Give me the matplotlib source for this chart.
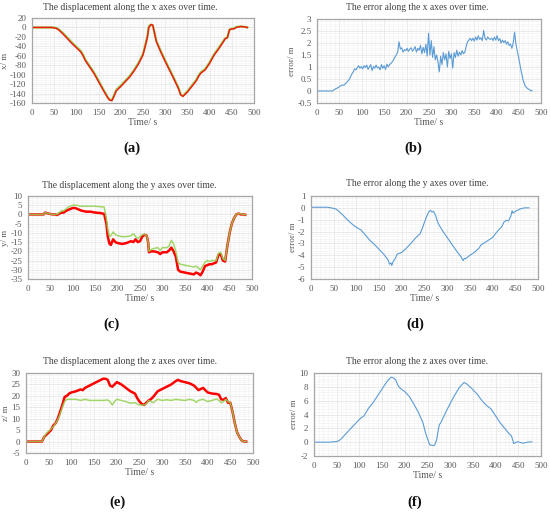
import matplotlib
matplotlib.use("Agg")
import matplotlib.pyplot as plt
from matplotlib.ticker import FuncFormatter, MultipleLocator, AutoMinorLocator

plt.rcParams["font.family"] = ["Liberation Serif", "DejaVu Serif"]

# (a) displacement along x
disp_x_red_t = [0, 35, 45, 55, 60, 70, 80, 90, 100, 110, 115, 120, 130, 140, 150, 160, 170, 175,
                180, 185, 190, 200, 210, 220, 230, 240, 250, 255, 260, 263, 268, 272, 280, 290,
                300, 310, 320, 330, 335, 340, 350, 360, 370, 375, 380, 390, 400, 410, 420, 430,
                435, 440, 445, 450, 455, 460, 470, 480, 485]
disp_x_red = [0, 0, 0, -2, -5, -14, -24, -34, -43, -52, -60, -70, -84, -98, -115, -132, -148, -154,
              -155, -145, -134, -125, -115, -105, -92, -77, -58, -40, -20, 0, 6, 5, -30, -52,
              -72, -91, -110, -130, -143, -146, -137, -125, -113, -104, -97, -90, -76, -59, -46, -32,
              -24, -22, -5, -3, -3, 0, 2, 1, 0]
disp_x_green = [0, 0, 0, -1, -4, -12, -22, -32, -41, -50, -58, -68, -82, -96, -113, -130, -147, -153,
                -154, -143, -132, -123, -113, -103, -90, -75, -56, -38, -18, 2, 6, 4, -28, -50,
                -70, -89, -108, -128, -142, -145, -135, -123, -111, -102, -95, -88, -74, -57, -44, -30,
                -23, -21, -4, -3, -2, 1, 2, 1, 0]

# (b) error along x
err_x_t = [0, 33] + list(range(36, 442, 3)) + [444, 450, 455, 460, 465, 470, 475, 478, 480]
err_x = [0, 0,
         0.02, 0.06, 0.10, 0.12, 0.15, 0.20, 0.22, 0.25, 0.24, 0.30, 0.35, 0.42, 0.48, 0.60,
         0.72, 0.80, 0.92, 0.88, 0.98, 1.05, 0.95, 1.02, 0.92, 1.05, 0.98, 1.08, 0.90, 1.00,
         1.10, 0.85, 1.02, 0.95, 1.08, 0.96, 1.00, 0.88, 1.10, 0.95, 1.05, 0.90, 1.12, 1.00,
         1.10, 1.15, 1.22, 1.30, 1.42, 1.50, 1.62, 2.05, 1.75, 1.80, 1.62, 1.72, 1.68, 1.78,
         1.65, 1.75, 1.80, 1.66, 1.74, 1.85, 1.62, 1.78, 1.70, 1.90, 1.55, 1.82, 1.60, 1.95,
         1.45, 2.40, 1.50, 2.10, 1.40, 1.85, 1.30, 1.50, 1.20, 0.80, 1.45, 1.10, 1.60, 1.30,
         1.55, 1.00, 1.65, 1.35, 1.55, 0.95, 1.60, 1.40, 1.70, 1.45, 1.62, 1.50, 1.68, 1.55,
         1.62, 1.85, 2.05, 2.12, 2.20, 2.10, 2.20, 2.08, 2.25, 2.12, 2.30, 2.15, 2.22, 2.10,
         2.52, 2.20, 2.12, 2.25, 2.18, 2.15, 2.20, 2.10, 2.25, 2.12, 2.30, 2.10, 2.18, 2.00,
         2.12, 2.02, 2.10, 1.95, 2.05, 1.90, 1.95, 1.78, 2.00, 2.45,
         1.95, 1.40, 0.90, 0.45, 0.20, 0.10, 0.05, 0.00, 0.02]

# (c) displacement along y
disp_y_t = [0, 35, 38, 45, 55, 60, 65, 70, 75, 80, 85, 90, 95, 100, 105, 110, 115, 120, 130, 140,
            150, 160, 170, 175, 178, 182, 185, 190, 195, 200, 210, 220, 230, 235, 240, 245, 250,
            255, 260, 265, 268, 270, 275, 280, 290, 295, 300, 310, 315, 320, 325, 330, 335, 340,
            350, 360, 370, 375, 380, 385, 390, 395, 400, 405, 410, 420, 425, 430, 435, 440, 445,
            450, 455, 460, 465, 470, 475, 480, 485]
disp_y_red = [0, 0, 1, 0.5, 0, 0, -0.3, 0.5, 1, 1, 2, 2.5, 3, 3.5, 3.5, 3, 2.5, 2, 1.5, 1.5,
              1, 0.8, 0.3, -5, -12, -16, -16.5, -13.5, -15, -15.5, -16, -15.5, -14.5, -15, -13.5, -15, -14.5,
              -12, -11, -11.5, -15, -20.5, -20, -20, -20.5, -21.5, -20.5, -20.5, -19.5, -18, -20, -23, -30, -31,
              -31.5, -32, -32.5, -31.5, -32, -33, -31, -28, -27.5, -27, -27, -26, -22, -21.5, -25, -25.5, -17,
              -10, -5, -2, 0, 0.5, 0, 0, -0.2]
disp_y_green = [0, 0, 1, 0.5, 0, 0, 0, 1, 2, 2, 3, 4, 4.5, 5, 5, 5, 4.5, 4.5, 4.5, 4.5,
                4.5, 4.2, 4, -2, -8, -12, -11.5, -9.5, -11, -11.5, -12, -12, -11.5, -10.5, -12, -13, -12,
                -11, -10.8, -11.5, -15, -20, -19, -18.5, -18, -19.5, -18, -18, -17, -14, -16, -20, -26, -27,
                -27.5, -28, -28.5, -28, -29, -30, -28, -26, -25, -25.5, -25, -25, -21, -20.5, -24, -25, -17,
                -10, -5, -2, 0, 0.5, 0.3, 0, -0.2]

# (d) error along y
err_y_t = [0, 35, 45, 50, 55, 60, 70, 80, 90, 100, 110, 120, 130, 140, 150, 160, 170, 173, 176,
           178, 180, 185, 190, 200, 210, 220, 230, 240, 245, 250, 255, 260, 263, 266, 270, 275,
           280, 290, 300, 310, 320, 330, 335, 338, 340, 350, 360, 370, 375, 380, 390, 400, 410,
           420, 425, 430, 435, 440, 443, 445, 450, 455, 460, 470, 480]
err_y = [0.05, 0.05, 0, -0.05, -0.1, -0.25, -0.6, -1.0, -1.35, -1.65, -1.85, -2.3, -2.75, -3.1,
         -3.5, -3.9, -4.4, -4.75, -4.65, -4.85, -4.6, -4.3, -3.9, -3.75, -3.4, -3.0, -2.55, -2.2,
         -1.75, -1.2, -0.7, -0.3, -0.2, -0.35, -0.3, -0.7, -1.3, -1.95, -2.5, -3.05, -3.6, -4.1,
         -4.45, -4.25, -4.3, -4.0, -3.75, -3.4, -3.1, -3.0, -2.75, -2.5, -2.0, -1.6, -1.2, -1.05,
         -1.1, -0.7, -0.25, -0.45, -0.3, -0.2, -0.1, 0.0, 0.0]

# (e) displacement along z
disp_z_red_t = [0, 35, 40, 45, 50, 55, 60, 65, 70, 75, 80, 85, 90, 95, 100, 110, 120, 125, 130,
                140, 150, 160, 170, 175, 180, 185, 190, 195, 200, 205, 210, 220, 230, 240, 245,
                250, 255, 260, 265, 270, 275, 280, 290, 300, 310, 320, 330, 335, 340, 350, 360,
                370, 375, 380, 385, 390, 395, 400, 410, 420, 425, 430, 435, 440, 445, 450, 455,
                460, 465, 470, 475, 480, 485]
disp_z_red = [0, 0, 2, 3, 4, 5, 7, 8, 10, 13, 16, 19.5, 20, 21, 21.5, 22, 22.8, 22.5, 23.5,
              24.5, 25.5, 26.5, 27.5, 27.5, 27, 24.5, 24, 25, 26, 25.5, 25, 23.5, 22, 21, 19,
              17.5, 16.5, 16, 17, 18, 18.5, 19.5, 22, 23, 24, 25, 26.5, 27, 26.5, 26, 25.5,
              24.5, 23.5, 22.5, 23, 23.5, 22.5, 21.5, 21, 20.8, 20.5, 18.5, 18.3, 19, 17, 17, 13,
              8, 4, 2, 0.5, 0, 0]
disp_z_green_t = [0, 35, 40, 45, 50, 55, 60, 65, 70, 75, 80, 85, 90, 95, 100, 110, 120, 130, 140,
                  150, 160, 170, 180, 185, 190, 195, 200, 210, 220, 230, 240, 250, 255, 260, 265,
                  270, 275, 280, 290, 300, 310, 320, 330, 340, 350, 360, 370, 375, 380, 390, 400,
                  410, 420, 425, 430, 435, 440, 445, 450, 455, 460, 465, 470, 475, 480, 485]
disp_z_green = [0, 0, 2, 3.5, 4.5, 5.5, 6.5, 8, 9.5, 12, 15, 17.5, 18.5, 18.5, 18.5, 18.5, 18,
                18.5, 18, 18, 18, 18, 18.2, 17.5, 16, 17.5, 18.5, 18, 17.5, 16.8, 17, 16, 16, 16,
                16.5, 18, 17.5, 17, 18.5, 18, 18.3, 18, 18.5, 18.2, 18, 18.5, 18, 17.2, 18, 18.5,
                17.5, 18, 18.7, 18, 17, 17.5, 18.5, 17.5, 17, 13, 8, 4, 2, 0.5, 0, 0]

# (f) error along z
err_z_t = [0, 35, 50, 55, 60, 70, 80, 90, 100, 110, 120, 130, 140, 150, 160, 165, 170, 175, 180,
           185, 190, 200, 210, 220, 230, 240, 245, 250, 255, 260, 263, 266, 270, 273, 276, 280,
           290, 300, 310, 320, 330, 335, 340, 350, 360, 370, 380, 390, 400, 410, 420, 430, 435,
           440, 443, 445, 450, 460, 470, 480]
err_z = [0, 0, 0.1, 0.2, 0.5, 1.2, 1.9, 2.6, 3.3, 3.8, 4.9, 5.7, 6.7, 7.7, 8.7, 9.1, 9.4, 9.3,
         9.0, 8.2, 7.8, 7.3, 6.6, 5.5, 4.3, 2.8, 1.5, 0.5, -0.4, -0.45, -0.5, -0.4, 0.3, 1.5,
         2.5, 2.9, 4.3, 5.6, 6.8, 7.9, 8.6, 8.5, 8.2, 7.6, 6.9, 6.0, 5.3, 4.8, 3.8, 2.8, 2.0,
         1.2, 0.9, -0.2, -0.1, 0.0, 0.05, -0.15, 0.0, 0.05]

RED = "#ff0000"
GREEN = "#92d050"
BLUE = "#5b9bd5"
W, H = 550, 512

fig = plt.figure(figsize=(W / 100, H / 100), dpi=100)


def make_axes(left, top, right, bottom):
    return fig.add_axes([left / W, 1 - bottom / H, (right - left) / W, (bottom - top) / H])


def style(ax, ylim, ystep, ylabel):
    ax.set_xlim(0, 500)
    ax.set_ylim(*ylim)
    ax.xaxis.set_major_locator(MultipleLocator(50))
    ax.yaxis.set_major_locator(MultipleLocator(ystep))
    ax.xaxis.set_minor_locator(AutoMinorLocator(5))
    ax.yaxis.set_minor_locator(AutoMinorLocator(5))
    ax.yaxis.set_major_formatter(FuncFormatter(lambda v, p: f"{v:g}"))
    ax.grid(which="major", color="#e2e2e2", lw=0.5)
    ax.grid(which="minor", color="#f1f1f1", lw=0.4)
    ax.set_axisbelow(True)
    ax.tick_params(which="both", length=0, labelsize=6.5, colors="#595959", pad=4)
    for s in ax.spines.values():
        s.set_color("#a6a6a6")
        s.set_linewidth(0.9)
    ax.set_xlabel("Time/ s", fontsize=7, color="#595959", labelpad=1)
    ax.set_ylabel(ylabel, fontsize=6.5, color="#595959", labelpad=1)


def label(x, y, title, cap_x, cap_y, cap):
    fig.text(x / W, 1 - y / H, title, ha="center", va="center", fontsize=6.9, color="#404040")
    fig.text(cap_x / W, 1 - cap_y / H, cap, ha="center", va="center", fontsize=10.5,
             fontweight="bold", color="#111111")


# (a)
ax = make_axes(32, 18, 254, 103)
ax.plot(disp_x_red_t, disp_x_green, color=GREEN, lw=1.6)
ax.plot(disp_x_red_t, disp_x_red, color=RED, lw=1.1, alpha=0.85)
style(ax, (-160, 20), 20, "x/ m")
label(130, 7, "The displacement along the x axes over time.", 132, 148, "(a)")

# (b)
ax = make_axes(317, 19, 541, 103)
ax.plot(err_x_t, err_x, color=BLUE, lw=0.8)
style(ax, (-0.5, 3), 0.5, "error/ m")
label(417, 7, "The error along the x axes over time.", 413, 148, "(b)")

# (c)
ax = make_axes(28, 196, 252, 279)
ax.plot(disp_y_t, disp_y_red, color=RED, lw=1.8)
ax.plot(disp_y_t, disp_y_green, color=GREEN, lw=1.1, alpha=0.85)
style(ax, (-35, 10), 5, "y/ m")
label(129, 185, "The displacement along the y axes over time.", 112, 324, "(c)")

# (d)
ax = make_axes(311, 196, 538, 279)
ax.plot(err_y_t, err_y, color=BLUE, lw=0.8)
style(ax, (-6, 1), 1, "error/ m")
label(417, 184, "The error along the y axes over time.", 415, 324, "(d)")

# (e)
ax = make_axes(26, 373, 253, 453)
ax.plot(disp_z_red_t, disp_z_red, color=RED, lw=1.8)
ax.plot(disp_z_green_t, disp_z_green, color=GREEN, lw=1.1, alpha=0.85)
style(ax, (-5, 30), 5, "z/ m")
label(130, 361, "The displacement along the z axes over time.", 118, 502, "(e)")

# (f)
ax = make_axes(314, 373, 541, 456)
ax.plot(err_z_t, err_z, color=BLUE, lw=0.8)
style(ax, (-2, 10), 2, "error/ m")
label(417, 361, "The error along the z axes over time.", 415, 502, "(f)")

fig.savefig("out.png", dpi=100)
